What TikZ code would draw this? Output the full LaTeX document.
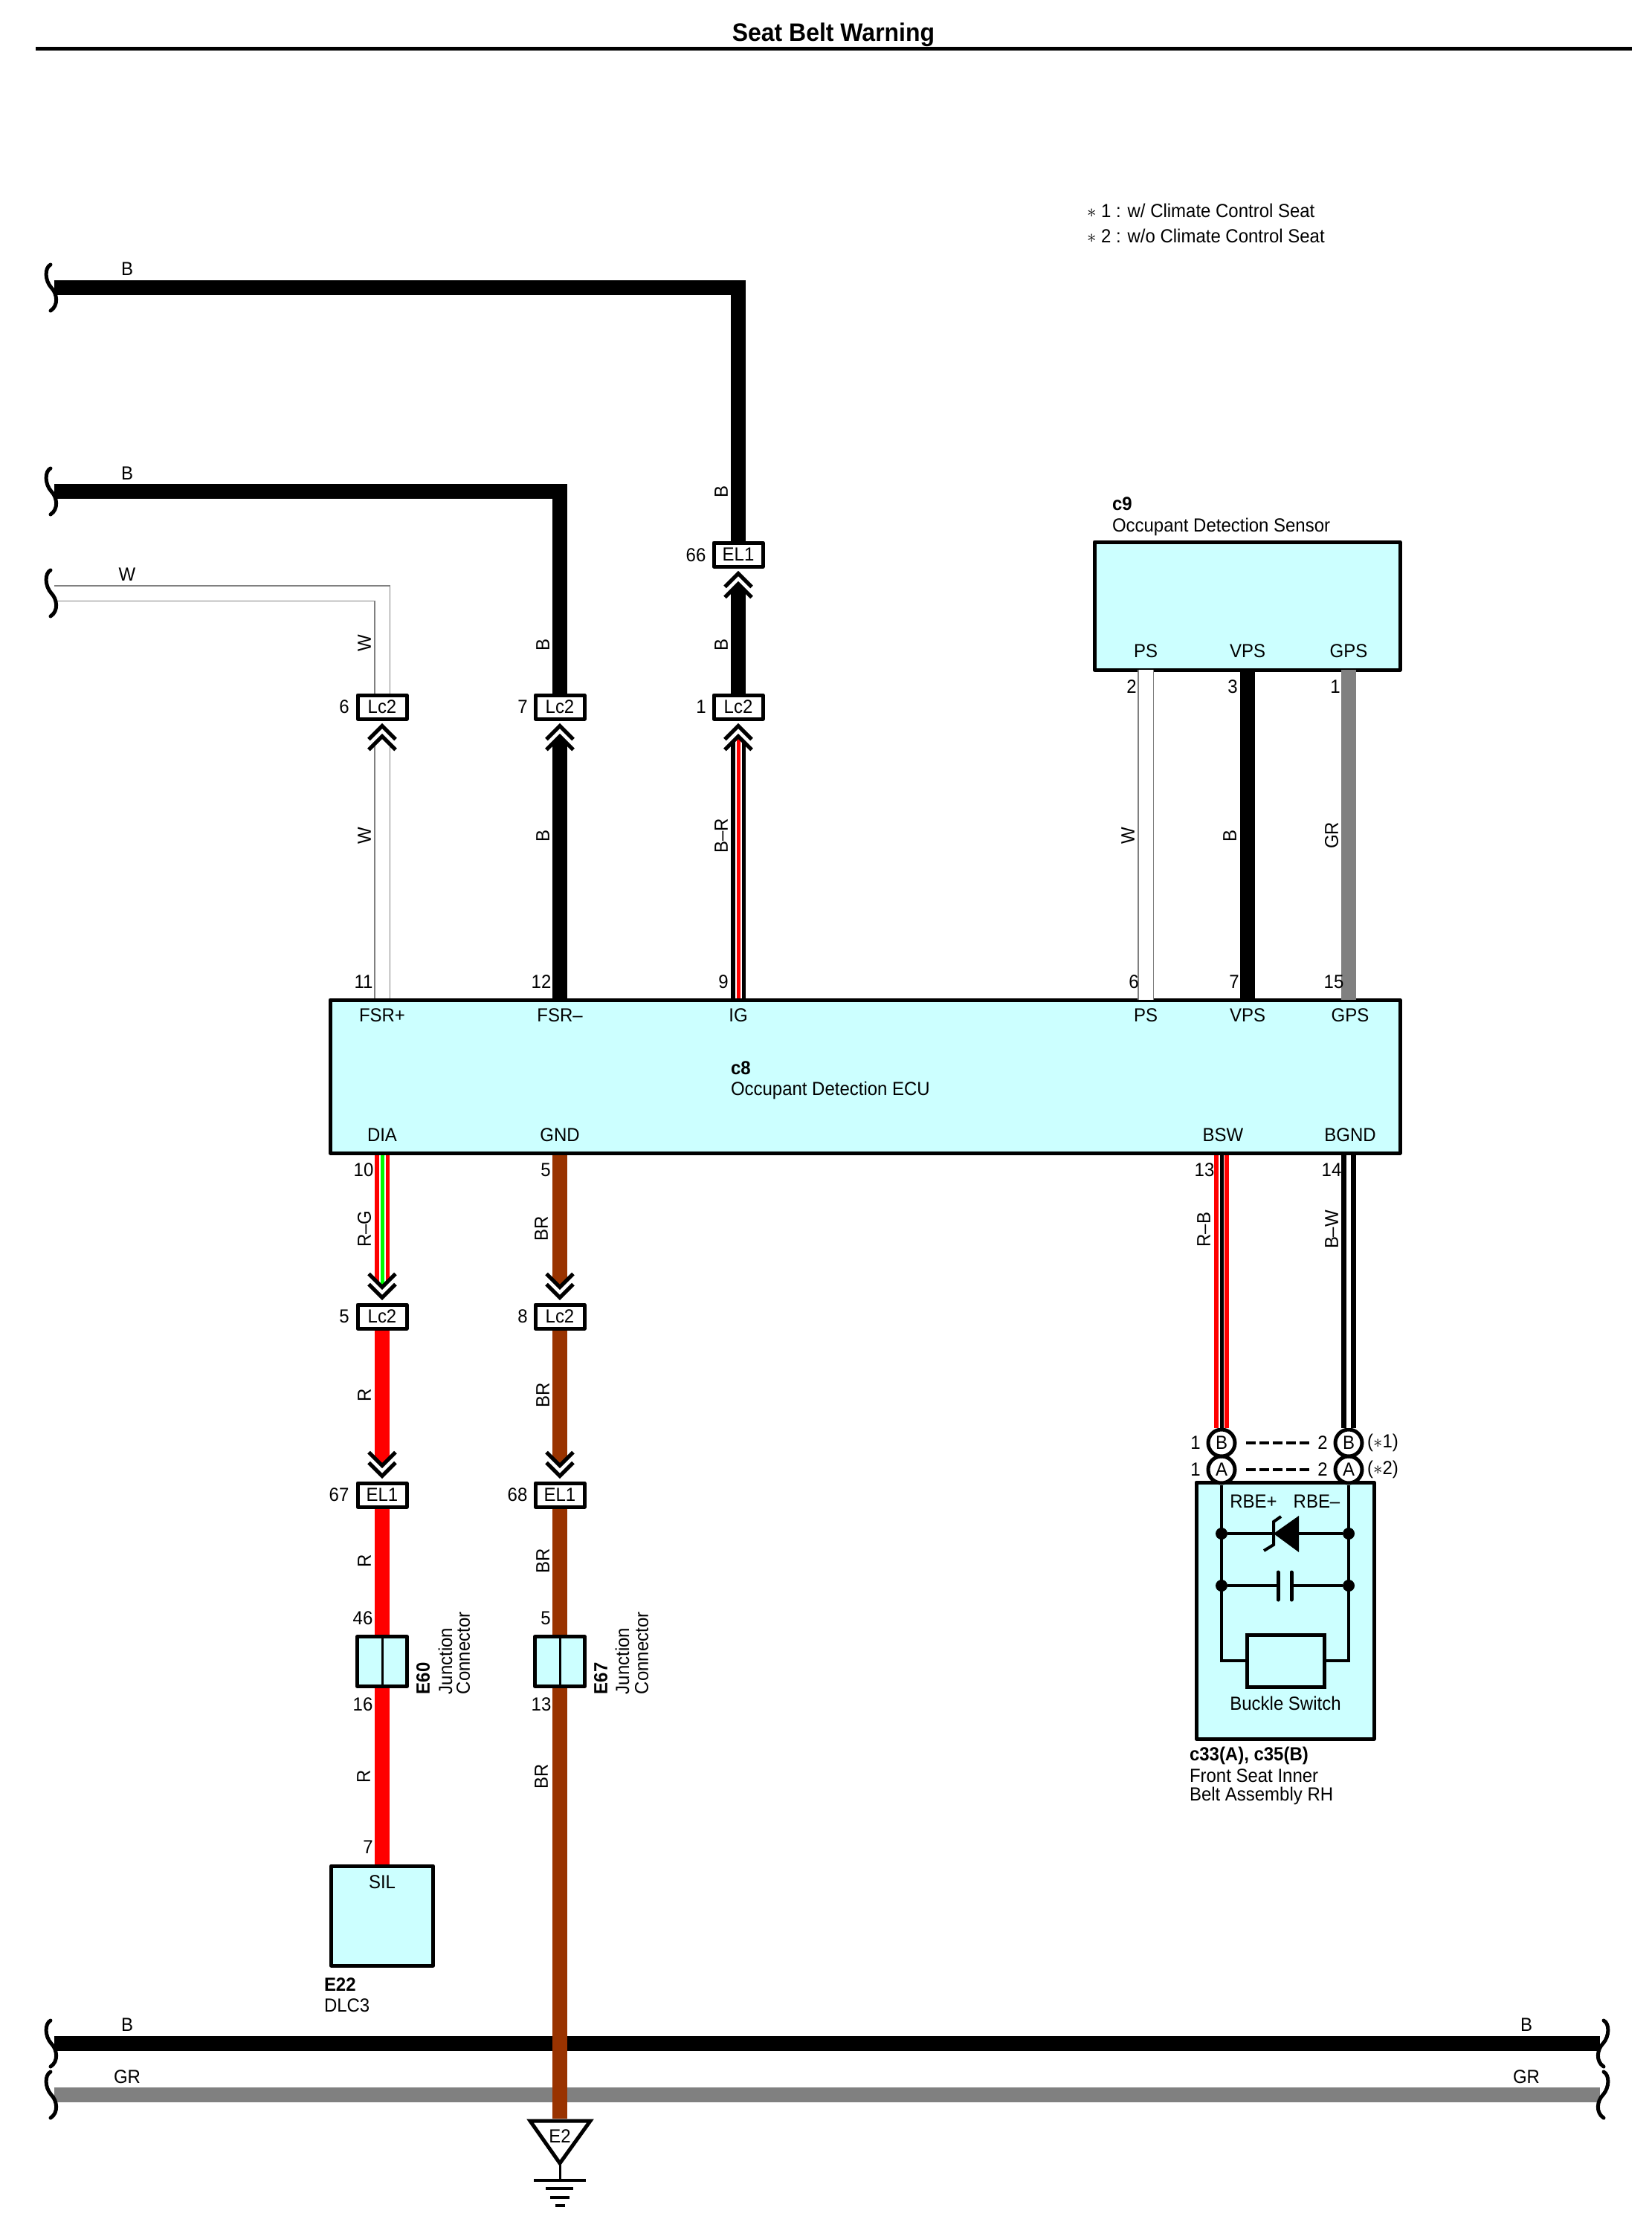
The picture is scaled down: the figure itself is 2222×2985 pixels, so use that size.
\documentclass[tikz,border=0pt]{standalone}
\usepackage{fontspec}
\setmainfont[FakeStretch=0.94]{Liberation Sans}
\usetikzlibrary{calc}
\definecolor{boxcyan}{HTML}{CCFFFF}
\definecolor{wbrown}{HTML}{993300}
\definecolor{wgray}{HTML}{808080}
\definecolor{wred}{HTML}{FF0000}
\definecolor{wgreen}{HTML}{00FF00}
\newcounter{lbl}
\tikzset{
  txt/.style={inner sep=0pt,outer sep=0pt,font=\fontsize{25.5}{28}\selectfont,text=black},
  capt/.style={txt,anchor=base west},
  capb/.style={txt,anchor=base west,font=\fontsize{25.5}{28}\selectfont\bfseries},
  rot/.style={txt,rotate=90},
  comp/.style={draw=black,fill=boxcyan,line width=5pt,inner sep=0pt,rectangle,line join=round},
  conn/.style={draw=black,fill=white,line width=5pt,inner sep=0pt,rectangle,minimum width=66pt,minimum height=32pt,line join=round,font=\fontsize{25.5}{28}\selectfont},
  junc/.style={comp,minimum width=67pt,minimum height=67pt},
  pinc/.style={draw=black,fill=white,line width=5pt,inner sep=0pt,circle,minimum size=36pt,font=\fontsize{25.5}{28}\selectfont},
  wire/.style={line width=20pt,line cap=butt,line join=miter},
  wireB/.style={wire,draw=black},
  wireR/.style={wire,draw=wred},
  wireBR/.style={wire,draw=wbrown},
  wireGR/.style={wire,draw=wgray},
  wireW/.style={wire,draw=wgray,line width=22pt,postaction={draw=white,line width=19pt}},
  wireBRd/.style={wire,draw=black,postaction={draw=white,line width=9pt},postaction={draw=wred,line width=5pt}},
  wireRG/.style={wire,draw=wred,postaction={draw=white,line width=9pt},postaction={draw=wgreen,line width=5pt}},
  wireRB/.style={wire,draw=wred,postaction={draw=white,line width=8pt},postaction={draw=black,line width=5pt}},
  wireBW/.style={wire,draw=black,postaction={draw=white,line width=6pt}},
  inner/.style={draw=black,line width=4pt,line join=miter},
  chevline/.style={draw=black,line width=5pt,line join=miter,line cap=butt},
  wavy/.style={draw=black,line width=5pt,line cap=round},
  dot/.style={fill=black,circle,inner sep=0pt,minimum size=16pt},
}
% text label with an automatic name
\newcommand{\tx}[3][txt]{\stepcounter{lbl}\node[#1] (t\arabic{lbl}) at (#2) {#3};}
% double chevron next to a connector: node anchor, sign (+1 below, -1 above)
\newcommand{\chev}[2]{%
  \fill[white] ($(#1)+(-13,#2*34)$) -- ($(#1)+(0,#2*21)$) -- ($(#1)+(13,#2*34)$) -- ($(#1)+(13,#2*3)$) -- ($(#1)+(-13,#2*3)$) -- cycle;
  \draw[chevline] ($(#1)+(-18,#2*25)$) -- ($(#1)+(0,#2*7)$) -- ($(#1)+(18,#2*25)$);
  \draw[chevline] ($(#1)+(-18,#2*39)$) -- ($(#1)+(0,#2*21)$) -- ($(#1)+(18,#2*39)$);
}
% wavy cut mark, centre and side (+1 left, -1 right)
\newcommand{\cut}[2]{%
  \draw[wavy] ($(#1)+(#2*-1,-31)$) .. controls ($(#1)+(#2*-9,-27)$) and ($(#1)+(#2*-9,-10)$) .. ($(#1)+(0,0)$)
     .. controls ($(#1)+(#2*8,8)$) and ($(#1)+(#2*10,24)$) .. ($(#1)+(#2*-1,31)$);
}
\begin{document}
\begin{tikzpicture}[x=1pt,y=-1pt]
\useasboundingbox (0,0) rectangle (2222,2985);
\fill[white] (0,0) rectangle (2222,2985);
% title
\node[txt,font=\fontsize{34}{36}\selectfont\bfseries] (title) at (1121,47) {Seat Belt Warning};
\coordinate (ruleL) at (48,65);
\coordinate (ruleR) at (2195,65);
\draw[line width=5pt] (ruleL) -- (ruleR);
% notes
\tx[capt]{1462,292}{$\ast$~1 : w/ Climate Control Seat}
\tx[capt]{1462,326}{$\ast$~2 : w/o Climate Control Seat}
% components
\node[comp,minimum width=1439pt,minimum height=206pt] (ecu) at (1163.5,1448) {};
\node[comp,minimum width=411pt,minimum height=172pt] (sensor) at (1677.5,815) {};
\node[comp,minimum width=137pt,minimum height=134pt] (sil) at (514,2577) {};
\node[comp,minimum width=239pt,minimum height=345pt] (belt) at (1728.5,2166.5) {};
% connectors
\node[conn] (el1a) at (993,746) {EL1};
\node[conn] (lc2a) at (514,951) {Lc2};
\node[conn] (lc2b) at (753,951) {Lc2};
\node[conn] (lc2c) at (993,951) {Lc2};
\node[conn] (lc2d) at (514,1771) {Lc2};
\node[conn] (lc2e) at (753,1771) {Lc2};
\node[conn] (el1b) at (514,2011) {EL1};
\node[conn] (el1c) at (753,2011) {EL1};
\node[junc] (e60) at (514,2235) {};
\node[junc] (e67) at (753,2235) {};
\draw[line width=3pt] (e60.north) -- (e60.south);
\draw[line width=3pt] (e67.north) -- (e67.south);
% free ends
\coordinate (c1) at (69,387);
\coordinate (c2) at (69,661);
\coordinate (c3) at (69,798);
\coordinate (c4) at (69,2749);
\coordinate (c5) at (69,2818);
\coordinate (c6) at (2156,2749);
\coordinate (c7) at (2156,2818);
\coordinate (gtop) at (753,2850);
% harness bus
\draw[wireB] ($(c4)+(4,0)$) -- ($(c6)+(-4,0)$);
\draw[wireGR] ($(c5)+(4,0)$) -- ($(c7)+(-4,0)$);
% pins of belt
\node[pinc] (a1) at (1643,1977) {A};
\node[pinc] (a2) at (1814,1977) {A};
\node[pinc] (b1) at (1643,1941) {B};
\node[pinc] (b2) at (1814,1941) {B};
% upper wires
\draw[wireB] ($(c1)+(4,0)$) -| (el1a.north);
\draw[wireB] ($(c2)+(4,0)$) -| (lc2b.north);
\draw[wireW] ($(c3)+(4,0)$) -| (lc2a.north);
\draw[wireW] ($(lc2a.south)+(0,21)$) -- (lc2a.south |- ecu.north);
\draw[wireB] ($(lc2b.south)+(0,21)$) -- (lc2b.south |- ecu.north);
\draw[wireBRd] ($(lc2c.south)+(0,21)$) -- (lc2c.south |- ecu.north);
\draw[wireB] ($(el1a.south)+(0,21)$) -- (lc2c.north);
\draw[wireW] (1541,901) -- (1541,1345);
\draw[wireB] (1678,901) -- (1678,1345);
\draw[wireGR] (1814,901) -- (1814,1345);
% lower wires
\draw[wireRG] (lc2d.north |- ecu.south) -- ($(lc2d.north)+(0,-21)$);
\draw[wireBR] (lc2e.north |- ecu.south) -- ($(lc2e.north)+(0,-21)$);
\draw[wireR] (lc2d.south) -- ($(el1b.north)+(0,-21)$);
\draw[wireBR] (lc2e.south) -- ($(el1c.north)+(0,-21)$);
\draw[wireR] (el1b.south) -- (e60.north);
\draw[wireBR] (el1c.south) -- (e67.north);
\draw[wireR] (e60.south) -- (e60.south |- sil.north);
\draw[wireBR] (e67.south) -- (gtop);
\draw[wireRB] (b1.north |- ecu.south) -- (b1.north);
\draw[wireBW] (b2.north |- ecu.south) -- (b2.north);
% chevrons
\chev{el1a.south}{1}
\chev{lc2a.south}{1}
\chev{lc2b.south}{1}
\chev{lc2c.south}{1}
\chev{lc2d.north}{-1}
\chev{lc2e.north}{-1}
\chev{el1b.north}{-1}
\chev{el1c.north}{-1}
% cut marks
\cut{c1}{1}
\cut{c2}{1}
\cut{c3}{1}
\cut{c4}{1}
\cut{c5}{1}
\cut{c6}{-1}
\cut{c7}{-1}
% ground
\coordinate (gl) at (713,2853);
\coordinate (gr) at (794,2853);
\coordinate (gt) at (753,2910);
\coordinate (gs) at (753,2933);
\draw[draw=black,fill=white,line width=5pt,line join=miter] (gl) -- (gr) -- (gt) -- cycle;
\draw[line width=3pt] (gt) -- (gs);
\draw[line width=4pt] (718,2933) -- (788,2933);
\draw[line width=4pt] (734,2944) -- (771,2944);
\draw[line width=4pt] (740,2956) -- (766,2956);
\draw[line width=4pt] (747,2967) -- (760,2967);
\tx{753,2874}{E2}
% dashed links between connector pins
\coordinate (d1a) at (1676,1941);
\coordinate (d1b) at (1763,1941);
\coordinate (d2a) at (1676,1977);
\coordinate (d2b) at (1763,1977);
\draw[line width=4pt,dash pattern=on 13pt off 5pt] (d1a) -- (d1b);
\draw[line width=4pt,dash pattern=on 13pt off 5pt] (d2a) -- (d2b);
% belt internals
\node[draw=black,fill=boxcyan,line width=5pt,rectangle,inner sep=0pt,minimum width=104pt,minimum height=70pt] (sw) at (1729,2234) {};
\draw[inner] (a1.south) |- (sw.west);
\draw[inner] (a2.south) |- (sw.east);
\node[dot] (z1) at (1643,2063) {};
\node[dot] (z2) at (1814,2063) {};
\node[dot] (k1) at (1643,2133) {};
\node[dot] (k2) at (1814,2133) {};
\coordinate (ztip) at (1713,2063);
\coordinate (zbase) at (1747,2063);
\coordinate (kl) at (1719,2133);
\coordinate (kr) at (1737,2133);
\draw[inner] (z1) -- (ztip);
\draw[inner] (z2) -- (zbase);
\fill[black] (ztip) -- (1747,2039) -- (1747,2088) -- cycle;
\draw[draw=black,line width=4pt,line join=miter] (1723,2040) -- (1713,2047) -- (1713,2078) -- (1700,2086);
\draw[inner] (k1) -- (kl);
\draw[inner] (k2) -- (kr);
\draw[line width=5pt,line cap=round] (1719,2115) -- (1719,2152);
\draw[line width=5pt,line cap=round] (1737,2115) -- (1737,2152);
% ECU labels
\tx{514,1366}{FSR+}
\tx{753,1366}{FSR–}
\tx{993,1366}{IG}
\tx{1541,1366}{PS}
\tx{1678,1366}{VPS}
\tx{1816,1366}{GPS}
\tx{514,1527}{DIA}
\tx{753,1527}{GND}
\tx{1645,1527}{BSW}
\tx{1816,1527}{BGND}
\tx[capb]{983,1445}{c8}
\tx[capt]{983,1473}{Occupant Detection ECU}
% sensor labels
\tx[capb]{1496,686}{c9}
\tx[capt]{1496,715}{Occupant Detection Sensor}
\tx{1541,876}{PS}
\tx{1678,876}{VPS}
\tx{1814,876}{GPS}
\tx{1522,924}{2}
\tx{1658,924}{3}
\tx{1796,924}{1}
% pin numbers at ECU
\tx{489,1321}{11}
\tx{728,1321}{12}
\tx{973,1321}{9}
\tx{1525,1321}{6}
\tx{1660,1321}{7}
\tx{1794,1321}{15}
\tx{489,1574}{10}
\tx{734,1574}{5}
\tx{1620,1574}{13}
\tx{1791,1574}{14}
% connector pin numbers
\tx{936,747}{66}
\tx{463,951}{6}
\tx{703,951}{7}
\tx{943,951}{1}
\tx{463,1771}{5}
\tx{703,1771}{8}
\tx{456,2011}{67}
\tx{696,2011}{68}
\tx{488,2177}{46}
\tx{488,2293}{16}
\tx{734,2177}{5}
\tx{728,2293}{13}
\tx{495,2485}{7}
% wire colour labels, horizontal
\tx{171,362}{B}
\tx{171,637}{B}
\tx{171,773}{W}
\tx{171,2724}{B}
\tx{171,2794}{GR}
\tx{2053,2724}{B}
\tx{2053,2794}{GR}
% wire colour labels, vertical
\tx[rot]{490,865}{W}
\tx[rot]{490,1124}{W}
\tx[rot]{730,867}{B}
\tx[rot]{730,1124}{B}
\tx[rot]{970,661}{B}
\tx[rot]{970,867}{B}
\tx[rot]{970,1124}{B–R}
\tx[rot]{1517,1124}{W}
\tx[rot]{1654,1124}{B}
\tx[rot]{1791,1124}{GR}
\tx[rot]{490,1653}{R–G}
\tx[rot]{728,1653}{BR}
\tx[rot]{1619,1654}{R–B}
\tx[rot]{1791,1654}{B–W}
\tx[rot]{490,1877}{R}
\tx[rot]{730,1877}{BR}
\tx[rot]{490,2100}{R}
\tx[rot]{730,2100}{BR}
\tx[rot]{489,2390}{R}
\tx[rot]{728,2390}{BR}
% junction connector captions
\tx[rot,anchor=west,font=\fontsize{25.5}{28}\selectfont\bfseries]{569,2279}{E60}
\tx[rot,anchor=west]{599,2279}{Junction}
\tx[rot,anchor=west]{623,2279}{Connector}
\tx[rot,anchor=west,font=\fontsize{25.5}{28}\selectfont\bfseries]{808,2279}{E67}
\tx[rot,anchor=west]{837,2279}{Junction}
\tx[rot,anchor=west]{863,2279}{Connector}
% SIL
\tx{514,2532}{SIL}
\tx[capb]{436,2678}{E22}
\tx[capt]{436,2706}{DLC3}
% belt labels
\tx{1608,1941}{1}
\tx{1608,1977}{1}
\tx{1779,1941}{2}
\tx{1779,1977}{2}
\tx{1860,1941}{($\ast$1)}
\tx{1860,1977}{($\ast$2)}
\tx{1686,2020}{RBE+}
\tx{1771,2020}{RBE–}
\tx{1729,2291}{Buckle Switch}
\tx[capb]{1600,2368}{c33(A), c35(B)}
\tx[capt]{1600,2397}{Front Seat Inner}
\tx[capt]{1600,2422}{Belt Assembly RH}
\end{tikzpicture}
\end{document}
